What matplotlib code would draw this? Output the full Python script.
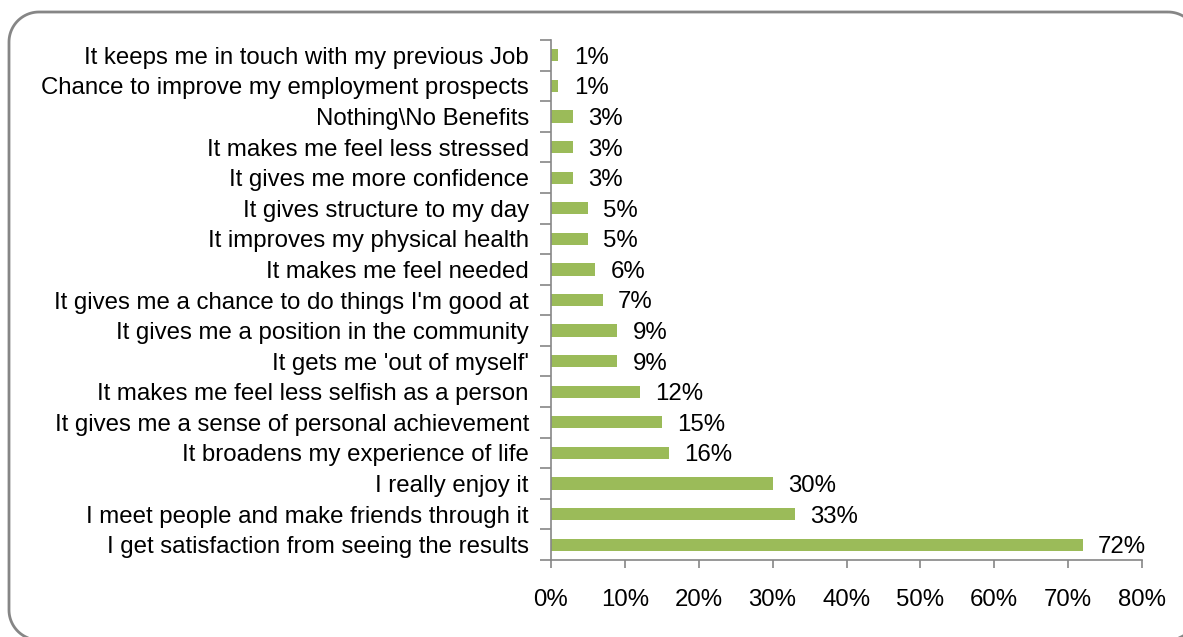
import matplotlib.pyplot as plt
from matplotlib.patches import Polygon
import numpy as np

plt.rcParams['font.family'] = ['Liberation Sans', 'DejaVu Sans']

categories = [
    "I get satisfaction from seeing the results",
    "I meet people and make friends through it",
    "I really enjoy it",
    "It broadens my experience of life",
    "It gives me a sense of personal achievement",
    "It makes me feel less selfish as a person",
    "It gets me 'out of myself'",
    "It gives me a position in the community",
    "It gives me a chance to do things I'm good at",
    "It makes me feel needed",
    "It improves my physical health",
    "It gives structure to my day",
    "It gives me more confidence",
    "It makes me feel less stressed",
    "Nothing\\No Benefits",
    "Chance to improve my employment prospects",
    "It keeps me in touch with my previous Job",
]
values = [72, 33, 30, 16, 15, 12, 9, 9, 7, 6, 5, 5, 3, 3, 3, 1, 1]
x_ticks = [0, 10, 20, 30, 40, 50, 60, 70, 80]

bar_color = '#9BBB59'
axis_color = '#868686'
fs = 17.3

fig = plt.figure(figsize=(11.83, 6.37), dpi=100)
W, H = 1183, 637


def rounded_outline(x0, y0, x1, y1, r, n=24):
    """Vertices of a rounded rectangle in figure fraction (input in pixels, y downwards)."""
    pts = []
    corners = [(x1 - r, y0 + r, -90, 0), (x1 - r, y1 - r, 0, 90),
               (x0 + r, y1 - r, 90, 180), (x0 + r, y0 + r, 180, 270)]
    for cx, cy, a0, a1 in corners:
        a = np.radians(np.linspace(a0, a1, n))
        pts.extend(zip(cx + r * np.cos(a), cy + r * np.sin(a)))
    px, py = np.array(pts).T
    return np.column_stack([px / W, 1 - py / H])


# outer frame, extending slightly past the right and bottom edges
frame = Polygon(rounded_outline(9, 12, 1198, 640, 30), closed=True, fill=False,
                edgecolor=axis_color, linewidth=2.0, joinstyle='round',
                transform=fig.transFigure, zorder=-1)
fig.add_artist(frame)

ax = fig.add_axes([551 / W, 1 - 560 / H, (1142 - 551) / W, (560 - 40) / H])
ax.set_facecolor('none')

y = np.arange(len(categories))
ax.barh(y, values, height=0.4, color=bar_color)

for yi, v in zip(y, values):
    ax.annotate(f"{v}%", (v, yi), xytext=(11, 0), textcoords='offset points',
                va='center_baseline', ha='left', fontsize=fs, color='black')

ax.set_xlim(0, 80)
ax.set_ylim(-0.5, len(categories) - 0.5)
ax.set_xticks(x_ticks)
ax.set_xticklabels([f"{t}%" for t in x_ticks], fontsize=fs)
ax.set_yticks(y)
ax.set_yticklabels(categories, fontsize=fs, va='center_baseline')
ax.set_yticks(np.arange(-0.5, len(categories), 1.0), minor=True)

ax.tick_params(axis='y', which='major', length=0, pad=16)
ax.tick_params(axis='y', which='minor', length=8, width=1.2, color=axis_color, direction='out')
ax.tick_params(axis='x', which='major', length=6, width=1.2, color=axis_color,
               direction='out', pad=15)

for side in ('top', 'right'):
    ax.spines[side].set_visible(False)
for side in ('left', 'bottom'):
    ax.spines[side].set_color(axis_color)
    ax.spines[side].set_linewidth(1.2)

fig.savefig('out.png', dpi=100, facecolor='white')
